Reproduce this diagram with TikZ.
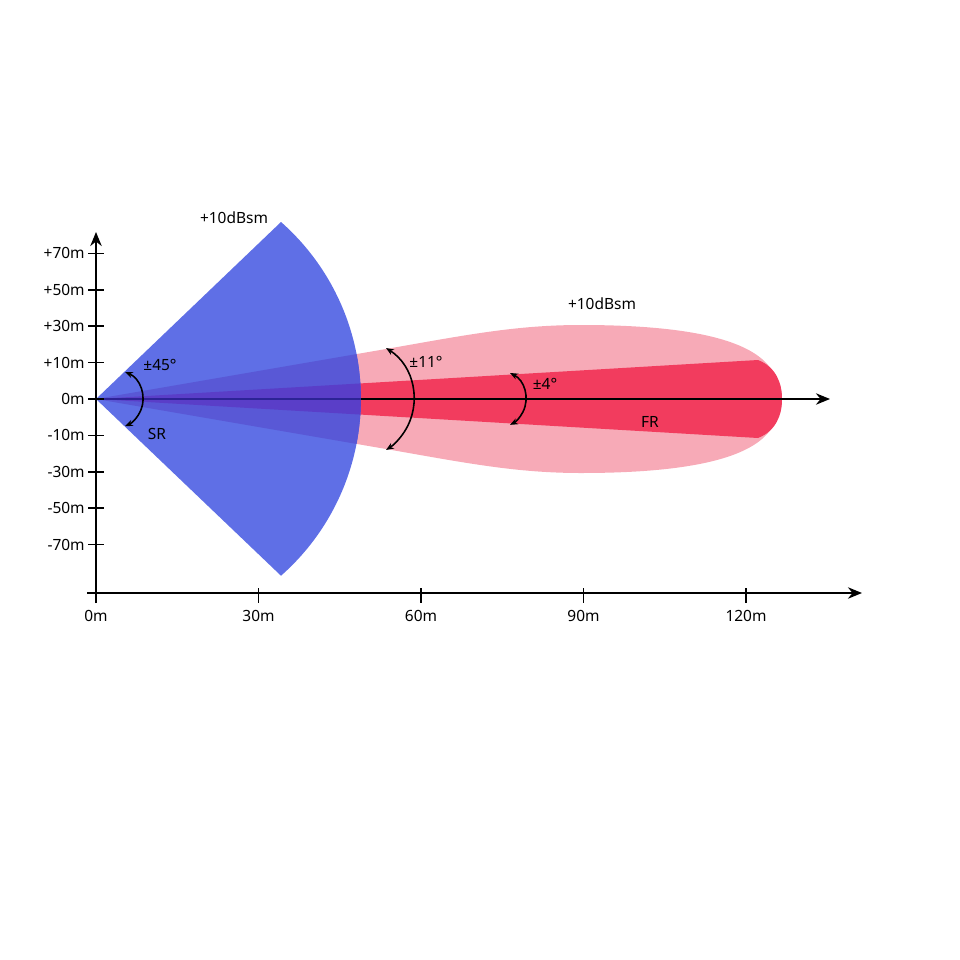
\documentclass[tikz,border=0pt]{standalone}
\usepackage{fontspec}
\setmainfont{Noto Sans}
\usetikzlibrary{arrows.meta}
\definecolor{srblue}{RGB}{95,111,230}
\definecolor{srmid}{RGB}{89,88,214}
\definecolor{srdark}{RGB}{90,62,200}
\definecolor{frlight}{RGB}{247,170,183}
\definecolor{frred}{RGB}{242,60,94}
\definecolor{axblue}{RGB}{45,35,150}
\tikzset{
  lobe/.style={insert path={(96,399) -- ++(290,-50) .. controls ++(80,-14) and ++(-65,0) .. ++(195,-24)
     .. controls ++(105,0) and ++(-22,-26) .. ++(187,40) .. controls ++(12,14) and ++(0,-10) .. ++(14,34)
     .. controls ++(0,10) and ++(12,-14) .. ++(-14,34) .. controls ++(-22,26) and ++(105,0) .. ++(-187,40)
     .. controls ++(-65,0) and ++(80,14) .. ++(-195,-24) -- cycle}},
  wedge/.style={insert path={(96,399) -- ++(662,-39) .. controls ++(18,7) and ++(0,-16) .. ++(24,39)
     .. controls ++(0,16) and ++(18,-7) .. ++(-24,39) -- cycle}},
  sector/.style={insert path={(96,399) -- (281,222) arc[start angle=-48.6, end angle=48.6, radius=235.8] -- cycle}},
  axisline/.style={line width=1.1pt, black},
  tickline/.style={line width=0.9pt, black},
  anglearc/.style={line width=0.9pt, black, {Stealth[length=4.5pt,width=3.6pt]}-{Stealth[length=4.5pt,width=3.6pt]}},
  lbl/.style={inner sep=0pt, font=\fontsize{8.8}{10}\selectfont},
}
\begin{document}
\begin{tikzpicture}[x=0.02cm, y=-0.02cm]
\useasboundingbox (0,0) rectangle (960,960);
% FR lobe and wedge
\fill[frlight, lobe];
\fill[frred, wedge];
% SR sector
\fill[srblue, sector];
\begin{scope}
  \clip[sector];
  \fill[srmid, lobe];
  \fill[srdark, wedge];
\end{scope}
% middle axis
\draw[line width=1pt, axblue] (96,399) -- (361,399);
\draw[line width=1pt, black, -{Stealth[length=8pt,width=6.5pt]}] (361,399) -- (830,399);
% axes
\draw[axisline, -{Stealth[length=8pt,width=6.5pt]}] (96,603) -- (96,232);
\draw[axisline, -{Stealth[length=8pt,width=6.5pt]}] (87,593) -- (862,593);
% y ticks and labels
\foreach \v/\t [count=\i] in {253.4/+70m, 289.8/+50m, 326.2/+30m, 362.6/+10m, 399/0m, 435.4/-10m, 471.8/-30m, 508.2/-50m, 544.6/-70m}{
  \draw[tickline] (88,\v) -- (104,\v);
  \node[lbl, anchor=east] (ylab\i) at (85,\v) {\t};
}
% x ticks and labels
\foreach \u/\t [count=\i] in {96/0m, 258.5/30m, 421/60m, 583.5/90m, 746/120m}{
  \draw[tickline] (\u,588) -- (\u,603);
  \node[lbl] (xlab\i) at (\u,616) {\t};
}
% angle arcs
\draw[anglearc] (125,372) arc[start angle=-67.3, end angle=67.3, radius=29.3];
\draw[anglearc] (386,348) arc[start angle=-57.6, end angle=57.6, radius=60.4];
\draw[anglearc] (510,373) arc[start angle=-63.4, end angle=63.4, radius=29];
% labels
\node[lbl] (dbsr) at (234,218) {+10dBsm};
\node[lbl] (dbfr) at (602,304) {+10dBsm};
\node[lbl] (a45) at (160,365) {±45°};
\node[lbl] (sr) at (157,434) {SR};
\node[lbl] (a11) at (426,362) {±11°};
\node[lbl] (a4) at (545,384) {±4°};
\node[lbl] (fr) at (650,422) {FR};
\end{tikzpicture}
\end{document}
